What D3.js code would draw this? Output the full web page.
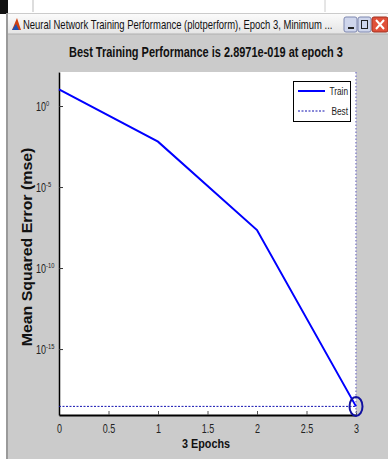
<!DOCTYPE html>
<html><head><meta charset="utf-8">
<script src="https://cdn.jsdelivr.net/npm/d3@7"></script>
<style>
html,body{margin:0;padding:0;background:#fff;overflow:hidden;}
svg{display:block;}
text{font-family:"Liberation Sans",Arial,sans-serif;}
</style></head><body>
<script>
// ---- data ----
const epochs = [0, 1, 2, 3];
const trainPerf = [10.7, 6.3e-3, 2.2e-8, 2.8971e-19];
const bestEpoch = 3;
const bestPerf = 2.8971e-19;
const xTicks = [0, 0.5, 1, 1.5, 2, 2.5, 3];
const xTickLabels = ["0", "0.5", "1", "1.5", "2", "2.5", "3"];
const yTicks = [1e0, 1e-5, 1e-10, 1e-15];
const yTickExponents = ["0", "-5", "-10", "-15"];
const legendLabels = ["Train", "Best"];
const windowTitle = "Neural Network Training Performance (plotperform), Epoch 3, Minimum ...";
const chartTitle = "Best Training Performance is 2.8971e-019 at epoch 3";
const xLabel = "3 Epochs";
const yLabel = "Mean Squared Error  (mse)";

const W = 388, H = 459;
const svg = d3.select("body").append("svg").attr("width", W).attr("height", H);

// place a text at (px,py) [optionally rotated], compressed horizontally to width w (or by factor s)
function placeText(t, px, py, opts) {
  const node = t.node();
  let s = opts.s;
  if (opts.w) s = opts.w / node.getComputedTextLength();
  t.attr("x", 0).attr("y", 0)
   .attr("transform", `translate(${px},${py})` + (opts.rot ? ` rotate(${opts.rot})` : "") + ` scale(${s},1)`);
  return t;
}

// ---- window chrome ----
svg.append("rect").attr("x",0).attr("y",0).attr("width",W).attr("height",H).attr("fill","#ffffff");
svg.append("rect").attr("x",0).attr("y",0).attr("width",8).attr("height",14).attr("fill","#111");
svg.append("line").attr("x1",33).attr("x2",33).attr("y1",0).attr("y2",12).attr("stroke","#bbb");
svg.append("line").attr("x1",325).attr("x2",325).attr("y1",0).attr("y2",12).attr("stroke","#ccc");
svg.append("rect").attr("x",6).attr("y",13).attr("width",W-6).attr("height",H-13).attr("fill","#cbcbcb");
svg.append("line").attr("x1",7).attr("x2",7).attr("y1",13).attr("y2",H).attr("stroke","#8a8a8a").attr("stroke-width",1.5);
const tg = svg.append("defs").append("linearGradient").attr("id","tb").attr("x1",0).attr("x2",0).attr("y1",0).attr("y2",1);
tg.append("stop").attr("offset","0").attr("stop-color","#fbfbfb");
tg.append("stop").attr("offset","1").attr("stop-color","#e4e4e4");
svg.append("rect").attr("x",8).attr("y",14).attr("width",W-8).attr("height",20).attr("fill","url(#tb)");
svg.append("line").attr("x1",8).attr("x2",W).attr("y1",34).attr("y2",34).attr("stroke","#b0b0b0");
svg.append("path").attr("d","M12,30 L17,18 L21,30 Z").attr("fill","#d04010");
svg.append("path").attr("d","M12,30 L16,24 L19,30 Z").attr("fill","#2050b0");
placeText(svg.append("text").attr("font-size",12).attr("fill","#111").text(windowTitle), 23, 29, {w: 310});
[[344,"min"],[358,"max"]].forEach(([bx,t])=>{
  svg.append("rect").attr("x",bx).attr("y",17).attr("width",13).attr("height",15).attr("rx",2)
    .attr("fill","#cfd6ec").attr("stroke","#7f88b0");
  if(t==="min") svg.append("rect").attr("x",bx+4).attr("y",27).attr("width",6).attr("height",2).attr("fill","#222");
  else svg.append("rect").attr("x",bx+3.5).attr("y",20.5).attr("width",6).attr("height",8).attr("fill","none").attr("stroke","#222");
});
svg.append("rect").attr("x",372).attr("y",17).attr("width",16).attr("height",15).attr("rx",2)
  .attr("fill","#e0503a").attr("stroke","#a03020");
svg.append("path").attr("d","M376,20 L384,29 M384,20 L376,29").attr("stroke","#fff").attr("stroke-width",2);

// ---- chart ----
const x = d3.scaleLinear().domain([0, 3]).range([59, 356]);
const y = d3.scaleLog().domain([Math.pow(10,-19.07), Math.pow(10,2.1)]).range([415, 72]);

svg.append("rect").attr("x",59).attr("y",72).attr("width",297).attr("height",343).attr("fill","#fff");

placeText(svg.append("text").attr("text-anchor","middle").attr("font-size",14)
  .attr("font-weight","bold").attr("fill","#111").text(chartTitle), 206, 57, {w: 274});

// x axis
const xa = svg.append("g").attr("transform","translate(0,415)")
  .call(d3.axisBottom(x).tickValues(xTicks).tickSize(-4).tickSizeOuter(0)
    .tickFormat((d,i)=>xTickLabels[i]));
xa.select(".domain").attr("stroke","#000").attr("stroke-width",2);
xa.selectAll(".tick line").attr("stroke","#555");
xa.selectAll(".tick text").attr("font-size",12.5).attr("fill","#222").attr("dy",null)
  .attr("font-family","'Liberation Sans',sans-serif")
  .each(function(){ placeText(d3.select(this), 0, 18, {s: 0.72}); });

// y axis
const ya = svg.append("g").attr("transform","translate(59,0)")
  .call(d3.axisLeft(y).tickValues(yTicks).tickSize(-4).tickSizeOuter(0).tickFormat(()=>""));
ya.select(".domain").attr("stroke","#000").attr("stroke-width",1.5);
ya.selectAll(".tick line").attr("stroke","#333");
ya.selectAll(".tick text").each(function(d,i){
  const t = d3.select(this).attr("dy",null).attr("font-size",12.5).attr("fill","#222")
    .attr("font-family","'Liberation Sans',sans-serif").attr("text-anchor","start");
  t.append("tspan").text("10");
  t.append("tspan").attr("font-size",8).attr("dy","-0.6em").text(yTickExponents[i]);
  placeText(t, -23, 4.5, {s: 0.72});
});

// axis labels
placeText(svg.append("text").attr("text-anchor","middle").attr("font-size",13.5)
  .attr("font-weight","bold").attr("fill","#111").text(xLabel), 206, 448, {w: 48});
placeText(svg.append("text").attr("text-anchor","middle")
  .attr("font-size",14).attr("font-weight","bold").attr("fill","#111").text(yLabel), 31.5, 247, {rot: -90, w: 199});

// best lines
svg.append("line").attr("x1",x(bestEpoch)).attr("x2",x(bestEpoch)).attr("y1",72).attr("y2",415)
  .attr("stroke","#8a88cc").attr("stroke-width",1.5).attr("stroke-dasharray","1.5,2");
svg.append("line").attr("x1",x(0)).attr("x2",x(3)).attr("y1",y(bestPerf)).attr("y2",y(bestPerf))
  .attr("stroke","#1010b0").attr("stroke-width",1).attr("stroke-dasharray","2,1.5");

// train line
svg.append("path").datum(epochs.map((e,i)=>[e, trainPerf[i]]))
  .attr("d", d3.line().x(d=>x(d[0])).y(d=>y(d[1])))
  .attr("fill","none").attr("stroke","#0000ff").attr("stroke-width",2);

// best marker
svg.append("ellipse").attr("cx",x(bestEpoch)).attr("cy",y(bestPerf)).attr("rx",6.5).attr("ry",9.5)
  .attr("fill","none").attr("stroke","#1010a0").attr("stroke-width",2);

// legend
const lg = svg.append("g");
lg.append("rect").attr("x",293.5).attr("y",81.5).attr("width",57).attr("height",40)
  .attr("fill","#fff").attr("stroke","#000").attr("stroke-width",1);
lg.append("line").attr("x1",298).attr("x2",325).attr("y1",91).attr("y2",91)
  .attr("stroke","#0000ff").attr("stroke-width",2);
lg.append("line").attr("x1",298).attr("x2",325).attr("y1",111).attr("y2",111)
  .attr("stroke","#1010b0").attr("stroke-width",1).attr("stroke-dasharray","2,1.5");
legendLabels.forEach((l,i)=>{
  placeText(lg.append("text").attr("text-anchor","end").attr("font-size",11.5)
    .attr("fill","#222").text(l), 348, 95 + i*20, {s: 0.72});
});
</script>
</body></html>
